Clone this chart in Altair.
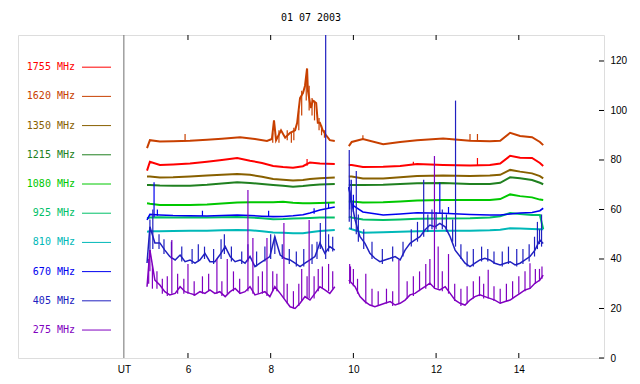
import altair as alt
import pandas as pd

TITLE = "01 07 2003"
FREQS = ["1755 MHz", "1620 MHz", "1350 MHz", "1215 MHz", "1080 MHz",
         "925 MHz", "810 MHz", "670 MHz", "405 MHz", "275 MHz"]
COLORS = ["#ff0000", "#c84000", "#886000", "#208020", "#00c800",
          "#00c068", "#00b8b8", "#0000f0", "#2020c0", "#8000c0"]
WIDTHS = [2, 2, 2, 2, 2, 2, 2, 1.6, 1.5, 1.5]

XTICKS = [6, 8, 10, 12, 14]
YTICKS = [0, 20, 40, 60, 80, 100, 120]
UT_POS = 4.45

# fine time grids (hours UT)
T1 = [5.01, 5.08, 5.20, 5.32, 5.44, 5.56, 5.69, 5.81, 5.93, 6.05,
      6.17, 6.29, 6.41, 6.53, 6.65, 6.77, 6.90, 7.02, 7.14, 7.26,
      7.38, 7.50, 7.62, 7.74, 7.86, 7.98, 8.10, 8.23, 8.35, 8.47,
      8.59, 8.71, 8.83, 8.95, 9.07, 9.19, 9.31, 9.43, 9.55]
T2 = [9.89, 10.04, 10.16, 10.28, 10.40, 10.52, 10.64, 10.76, 10.89, 11.01,
      11.13, 11.25, 11.37, 11.49, 11.61, 11.73, 11.85, 11.97, 12.09, 12.22,
      12.34, 12.46, 12.58, 12.70, 12.82, 12.94, 13.06, 13.18, 13.30, 13.42,
      13.55, 13.67, 13.79, 13.91, 14.03, 14.15, 14.27, 14.39, 14.51, 14.59]
# coarse time grids
C1 = [5.01, 5.08, 5.32, 5.64, 6.05, 6.46, 6.82, 7.19, 7.50, 7.79,
      8.06, 8.30, 8.54, 8.78, 8.95, 9.19, 9.55]
C2 = [9.89, 9.96, 10.23, 10.72, 11.13, 11.54, 12.17, 12.82, 13.30, 13.55,
      13.79, 14.03, 14.32, 14.51, 14.59]
# flare grid for 1620 MHz, first part
F1 = [5.01, 5.08, 5.32, 5.64, 6.05, 6.46, 6.82, 7.26, 7.62, 7.91,
      8.03, 8.08, 8.13, 8.25, 8.35, 8.47, 8.59, 8.64, 8.71, 8.78,
      8.83, 8.88, 8.90, 8.97, 9.02, 9.10, 9.14, 9.19, 9.26, 9.34,
      9.43, 9.55]

V1755_1 = [75.7, 79.3, 78.0, 78.2, 78.6, 79.3, 80.0, 80.8, 79.7, 78.8,
           77.6, 77.2, 76.9, 77.5, 79.0, 78.6, 78.4]
V1755_2 = [78.0, 78.0, 77.2, 77.3, 77.6, 78.4, 78.0, 77.8, 78.0, 78.6,
           81.7, 80.9, 80.8, 78.8, 77.6]
V1620_1 = [84.8, 88.0, 87.5, 87.6, 87.8, 88.2, 88.6, 89.2, 88.5, 87.7,
           88.5, 96.0, 88.0, 92.0, 89.0, 91.0, 92.0, 95.0, 105.0, 107.0,
           110.0, 117.0, 108.0, 101.0, 104.0, 103.0, 95.0, 95.0, 92.0, 90.0,
           88.0, 87.7]
V1620_2 = [85.6, 87.3, 88.5, 86.4, 87.3, 88.0, 88.7, 87.8, 87.6, 87.8,
           91.0, 89.7, 89.2, 87.3, 86.0]
V1350_1 = [73.3, 73.3, 72.9, 73.0, 73.3, 73.7, 74.0, 74.3, 74.0, 73.2,
           72.3, 72.0, 71.7, 71.9, 72.3, 72.6, 72.9]
V1350_2 = [73.3, 73.3, 72.5, 72.5, 73.0, 73.5, 73.7, 73.5, 73.7, 74.0,
           76.0, 75.3, 74.6, 73.5, 72.6]
V1215_1 = [69.9, 69.9, 69.7, 69.6, 69.6, 70.0, 70.5, 71.0, 70.7, 70.3,
           69.9, 69.6, 69.2, 69.5, 69.8, 70.1, 70.3]
V1215_2 = [69.9, 69.9, 69.9, 70.0, 70.3, 70.6, 70.7, 70.3, 70.3, 70.8,
           73.0, 72.6, 71.9, 70.8, 70.2]
V1080_1 = [62.5, 62.3, 61.8, 61.8, 61.8, 62.0, 62.4, 62.8, 62.9, 62.9,
           62.9, 63.1, 62.7, 62.5, 62.5, 62.6, 62.8]
V1080_2 = [63.2, 63.2, 62.8, 62.9, 63.2, 63.6, 63.8, 63.8, 63.8, 64.2,
           66.1, 65.4, 64.9, 64.0, 63.8]
V925_1 = [56.5, 56.8, 56.9, 56.8, 56.9, 56.8, 56.9, 57.0, 56.8, 56.5,
          56.1, 56.2, 56.4, 56.5, 56.6, 56.8, 56.8]
V925_2 = [57.1, 56.8, 56.0, 55.8, 56.0, 56.3, 56.4, 56.5, 56.8, 57.3,
          58.6, 58.2, 57.8, 57.8, 52.0]
V810_1 = [51.0, 51.2, 51.2, 51.3, 51.4, 51.4, 51.6, 51.7, 51.6, 51.2,
          50.7, 50.6, 50.4, 50.4, 50.8, 51.3, 51.7]
V810_2 = [52.4, 52.0, 50.6, 50.8, 51.0, 51.2, 51.4, 51.4, 51.6, 51.8,
          52.4, 52.3, 52.1, 52.0, 52.0]
V670_1 = [55.8, 58.0, 57.8, 57.6, 57.5, 57.4, 57.6, 57.8, 57.6, 57.3,
          57.1, 57.2, 57.5, 57.9, 58.6, 59.8, 61.0]
V670_2 = [69.0, 62.0, 59.0, 57.8, 58.2, 58.7, 58.5, 58.0, 57.8, 57.8,
          58.2, 58.6, 58.8, 59.5, 60.5]
V405_1 = [38.4, 53.0, 46.5, 46.5, 43.6, 41.0, 39.6, 41.6, 38.9, 39.6,
          38.3, 39.6, 42.3, 38.9, 38.9, 41.6, 45.0, 41.0, 38.9, 39.6,
          38.3, 41.0, 36.9, 38.3, 39.6, 41.0, 49.0, 41.6, 40.2, 39.6,
          38.3, 36.9, 38.3, 39.6, 41.0, 46.5, 42.3, 45.0, 43.6]
V405_2 = [69.0, 55.8, 49.0, 46.3, 42.3, 40.3, 38.9, 39.6, 40.3, 41.0,
          39.6, 43.6, 46.3, 47.7, 49.0, 51.7, 53.7, 53.0, 54.4, 53.0,
          49.0, 43.6, 41.0, 38.3, 36.9, 38.3, 39.6, 40.3, 39.6, 38.3,
          37.6, 38.3, 38.9, 37.6, 38.3, 39.6, 41.0, 43.6, 47.7, 46.3]
V275_1 = [28.8, 43.6, 31.5, 29.5, 26.8, 25.5, 26.1, 28.8, 26.8, 26.1,
          25.5, 26.8, 26.1, 27.5, 26.1, 26.8, 24.8, 26.8, 28.1, 26.1,
          26.8, 28.8, 25.5, 26.1, 26.8, 24.8, 28.8, 26.1, 23.4, 20.7,
          20.0, 22.1, 24.8, 23.4, 26.1, 28.8, 27.5, 26.1, 28.8]
V275_2 = [31.5, 28.8, 24.8, 22.8, 21.4, 20.7, 21.4, 22.1, 22.8, 21.4,
          22.1, 23.4, 25.5, 26.1, 27.5, 28.8, 30.2, 28.1, 27.5, 28.8,
          26.1, 23.4, 22.1, 21.4, 23.4, 24.8, 25.5, 24.8, 24.1, 23.4,
          22.1, 22.8, 23.4, 24.8, 26.1, 27.5, 28.1, 30.2, 31.5, 33.5]

# short bursts: (time, level before the burst, burst peak)
SPK_1755 = [(8.88, 77.7, 80.4), (11.45, 78.2, 79.3), (13.00, 77.9, 80.8)]
SPK_1620 = [(5.93, 87.6, 90.5), (10.23, 88.3, 90.0), (12.82, 87.8, 90.5),
            (13.00, 87.7, 90.5), (8.05, 87, 91), (8.20, 87, 92), (8.40, 88, 92),
            (8.50, 87, 91), (8.56, 88, 93), (8.68, 92, 100), (8.75, 98, 108),
            (8.86, 104, 112), (8.93, 100, 110), (9.00, 98, 105), (9.06, 96, 104),
            (9.17, 92, 97), (9.23, 90, 94), (9.30, 89, 92)]
SPK_670 = [(5.18, 57, 71), (5.26, 57.5, 60), (6.35, 57.4, 59.5), (7.95, 57.1, 59.5),
           (9.05, 58.3, 60.5), (9.40, 60.5, 62.5), (9.91, 60, 72), (10.00, 59, 66),
           (12.09, 58.5, 70.8), (12.30, 58.5, 61)]
SPK_405 = [(5.08, 42, 56), (5.15, 44, 60), (5.30, 44, 50), (5.42, 42, 48),
           (5.60, 40, 47), (5.85, 39, 45), (6.10, 38, 44), (6.25, 39, 46),
           (6.40, 40, 45), (6.62, 38, 44), (6.80, 40, 48), (6.88, 42, 50),
           (7.05, 39, 45), (7.30, 38, 43), (7.45, 39, 46), (7.66, 37, 43),
           (7.86, 39, 45), (8.00, 40, 50), (8.10, 42, 49), (8.28, 40, 46),
           (8.45, 38, 44), (8.62, 37, 43), (8.80, 37, 44), (9.00, 38, 46),
           (9.12, 40, 47), (9.20, 44, 54.5), (9.33, 40, 135), (9.40, 43, 50),
           (9.50, 43, 49),
           (9.90, 55, 84), (9.95, 52, 72), (10.07, 50, 75.6), (10.12, 47, 58),
           (10.25, 44, 52), (10.45, 40, 47), (10.70, 38, 44), (10.95, 39, 45),
           (11.20, 41, 47), (11.40, 45, 52), (11.55, 47, 55), (11.70, 49, 72),
           (11.80, 51, 58), (11.90, 52, 60), (12.00, 52, 59), (12.15, 52, 60),
           (12.25, 51, 58), (12.40, 47, 56), (12.47, 45, 104), (12.60, 40, 46),
           (12.75, 37, 43), (12.90, 37, 44), (13.10, 39, 45), (13.25, 39, 44),
           (13.40, 38, 43), (13.60, 37, 43), (13.75, 38, 45), (13.95, 37, 44),
           (14.10, 38, 44), (14.25, 39, 46), (14.38, 41, 49), (14.45, 44, 55),
           (14.50, 46, 52), (14.55, 45, 58)]
SPK_275 = [(5.05, 30, 40), (5.08, 35, 43.6), (5.14, 28, 38), (5.25, 28, 35),
           (5.38, 26, 32), (5.50, 25, 33), (5.61, 26, 47.7), (5.75, 26, 34),
           (5.90, 26, 32), (6.00, 26, 38), (6.15, 25, 31), (6.35, 26, 33),
           (6.50, 27, 34), (6.70, 26, 40), (6.82, 25, 31), (6.95, 26, 40),
           (7.10, 27, 35), (7.25, 26, 32), (7.45, 27, 67.9), (7.57, 26, 48.5),
           (7.70, 26, 33), (7.80, 26, 35), (7.91, 25, 48.5), (8.05, 27, 35),
           (8.15, 27, 34), (8.32, 24, 54.5), (8.40, 22, 30), (8.55, 20, 27),
           (8.68, 21, 30), (8.75, 23, 36), (8.88, 24, 33), (8.93, 24, 55.8),
           (9.05, 24, 33), (9.15, 27, 36), (9.25, 28, 37), (9.40, 27, 38),
           (9.50, 28, 35),
           (9.91, 30, 38), (9.93, 31, 37), (10.00, 29, 36), (10.10, 26, 32),
           (10.30, 22, 34), (10.45, 21, 28), (10.60, 21, 27), (10.80, 22, 28),
           (10.95, 21, 27), (11.10, 22, 39.6), (11.30, 24, 31), (11.45, 25, 33),
           (11.60, 27, 35), (11.75, 28, 38), (11.85, 30, 40), (11.96, 28, 81.6),
           (12.05, 28, 45), (12.15, 27, 35), (12.30, 26, 42), (12.45, 23, 30),
           (12.60, 21, 28), (12.75, 22, 29), (12.90, 24, 31), (13.05, 25, 33),
           (13.15, 24, 30), (13.26, 24, 35.7), (13.40, 23, 29), (13.55, 22, 28),
           (13.70, 23, 30), (13.85, 24, 31), (14.00, 26, 33), (14.15, 27, 35),
           (14.27, 28, 38.3), (14.40, 30, 36), (14.50, 31, 36), (14.56, 32, 37)]

SERIES = {
    "1755 MHz": [(C1, V1755_1), (C2, V1755_2)],
    "1620 MHz": [(F1, V1620_1), (C2, V1620_2)],
    "1350 MHz": [(C1, V1350_1), (C2, V1350_2)],
    "1215 MHz": [(C1, V1215_1), (C2, V1215_2)],
    "1080 MHz": [(C1, V1080_1), (C2, V1080_2)],
    "925 MHz": [(C1, V925_1), (C2, V925_2)],
    "810 MHz": [(C1, V810_1), (C2, V810_2)],
    "670 MHz": [(C1, V670_1), (C2, V670_2)],
    "405 MHz": [(T1, V405_1), (T2, V405_2)],
    "275 MHz": [(T1, V275_1), (T2, V275_2)],
}
SPIKES = {"1755 MHz": SPK_1755, "1620 MHz": SPK_1620, "670 MHz": SPK_670,
          "405 MHz": SPK_405, "275 MHz": SPK_275}

W, H = 586, 323
FONT = "DejaVu Sans Mono"

xs = alt.Scale(domain=[1.89, 16.06], nice=False, zero=False)
ys = alt.Scale(domain=[0, 130.5], nice=False, zero=False)
AX = alt.Axis(values=[UT_POS] + XTICKS, tickSize=0, domain=False, grid=False,
              labelExpr="datum.value < 5 ? 'UT' : format(datum.value, 'd')",
              labelPadding=6, labelFlush=False)
AY = alt.Axis(values=YTICKS, orient="right", tickSize=0, domain=False, grid=False,
              labelPadding=6, labelAlign="left")
XE = alt.X("t:Q", scale=xs, axis=AX, title=None)
YE = alt.Y("v:Q", scale=ys, axis=AY, title=None)

layers = []

# UT marker line
layers.append(alt.Chart(pd.DataFrame({"t": [UT_POS]})).mark_rule(
    color="#707070", strokeWidth=1).encode(x=XE))

for name, col, sw in zip(FREQS, COLORS, WIDTHS):
    rows = []
    for seg, (ts, vs) in enumerate(SERIES[name]):
        for t, v in zip(ts, vs):
            rows.append({"t": t, "v": v, "seg": seg})
    d = pd.DataFrame(rows).sort_values("t")
    layers.append(alt.Chart(d).mark_line(color=col, strokeWidth=sw, clip=True).encode(
        x=XE, y=YE, detail="seg:N", order="t:Q"))
    spk = SPIKES.get(name)
    if spk:
        ds = pd.DataFrame(spk, columns=["t", "v", "p"])
        layers.append(alt.Chart(ds).mark_rule(color=col, strokeWidth=1.2, clip=True).encode(
            x=XE, y=YE, y2=alt.Y2("p:Q")))

# inward ticks
xt = pd.DataFrame({"t": XTICKS})
layers.append(alt.Chart(xt).mark_rule(color="black").encode(
    x=XE, y=alt.value(0), y2=alt.value(5)))
layers.append(alt.Chart(xt).mark_rule(color="black").encode(
    x=XE, y=alt.value(H - 5), y2=alt.value(H)))
yt = pd.DataFrame({"v": YTICKS})
layers.append(alt.Chart(yt).mark_rule(color="black").encode(
    y=YE, x=alt.value(W - 5), x2=alt.value(W)))

# legend drawn inside the left part of the frame
leg = pd.DataFrame({"freq": FREQS, "color": COLORS,
                    "v": [117.5 - i * 11.8 for i in range(len(FREQS))]})
layers.append(alt.Chart(leg).mark_text(align="right", baseline="middle",
                                       font=FONT, fontSize=10).encode(
    x=alt.value(57), y=YE, text="freq:N", color=alt.Color("color:N", scale=None)))
layers.append(alt.Chart(leg).mark_rule(strokeWidth=1).encode(
    x=alt.value(64), x2=alt.value(93), y=YE, color=alt.Color("color:N", scale=None)))

chart = alt.layer(*layers).properties(
    width=W, height=H,
    title=alt.TitleParams(TITLE, font=FONT, fontSize=10, fontWeight="normal",
                          color="black", offset=12, anchor="middle"),
    autosize=alt.AutoSizeParams(type="none"),
    padding={"left": 10, "top": 27, "right": 26, "bottom": 18},
).configure_view(stroke="black", strokeWidth=1).configure_axis(
    labelFont=FONT, labelFontSize=10, labelColor="black"
).configure(background="white")

chart.save("out.html", embed_options={"renderer": "svg", "actions": False})
